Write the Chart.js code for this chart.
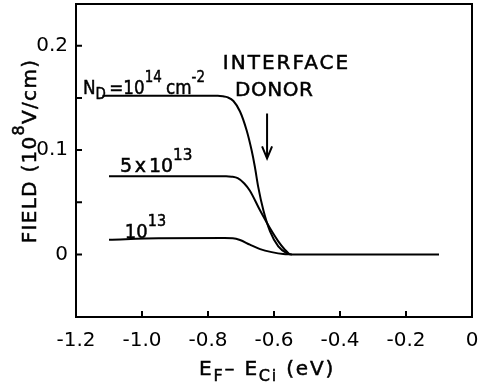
<!DOCTYPE html>
<html>
<head>
<meta charset="utf-8">
<script src="https://cdn.jsdelivr.net/npm/chart.js@4"></script>
<style>
  html, body { margin: 0; padding: 0; background: #fff; }
  #wrap { width: 479px; height: 392px; position: relative; }
</style>
</head>
<body>
<div id="wrap"><canvas id="fieldChart"></canvas></div>
<script>
// valores (E_F - E_Ci em eV, campo em 10^8 V/cm)
const xHigh = [-1.12, -0.77, -0.755, -0.74, -0.723, -0.703, -0.683, -0.668, -0.658, -0.648, -0.632, -0.612, -0.587, -0.562, -0.546, -0.1];
const yHigh = [0.152, 0.152, 0.1515, 0.1505, 0.147, 0.137, 0.119, 0.100, 0.084, 0.065, 0.042, 0.022, 0.0077, 0.0013, 0, 0];

const xMid = [-1.1, -0.745, -0.728, -0.71, -0.69, -0.673, -0.642, -0.612, -0.587, -0.567, -0.552];
const yMid = [0.075, 0.075, 0.0745, 0.073, 0.068, 0.061, 0.042, 0.025, 0.0125, 0.0045, 0];

const xLow = [-1.1, -0.95, -0.75, -0.725, -0.703, -0.673, -0.642, -0.607, -0.572, -0.546];
const yLow = [0.014, 0.0155, 0.0157, 0.0155, 0.0138, 0.0093, 0.0051, 0.0022, 0.0003, 0];

const xTickVals = [-1.2, -1.0, -0.8, -0.6, -0.4, -0.2, 0];
const xTickLabels = ['-1.2', '-1.0', '-0.8', '-0.6', '-0.4', '-0.2', '0'];
const yTickVals = [0, 0.05, 0.1, 0.15, 0.2];
const yTickLabels = ['0', '', '0.1', '', '0.2'];

const FONT = '"DejaVu Sans", sans-serif';

function pts(xs, ys) {
    return xs.map((x, i) => ({ x: x, y: ys[i] }));
}

function segFont(s, size) {
    return s.sub || s.sup ? Math.round(size * 0.8) : size;
}

// desenha texto com sub/superescrito (sx = compressão horizontal)
function drawRich(ctx, x, y, segs, size, spacing, sx) {
    sx = sx || 1;
    ctx.save();
    ctx.translate(x, y);
    ctx.scale(sx, 1);
    ctx.lineWidth = 0.5;
    let cx = 0;
    segs.forEach(s => {
        ctx.font = segFont(s, size) + 'px ' + FONT;
        ctx.letterSpacing = (spacing || 0) + 'px';
        let dy = 0;
        if (s.sub) dy = size * 0.28;
        if (s.sup) dy = -size * 0.6;
        cx += s.gap || 0;
        ctx.fillText(s.t, cx, dy);
        ctx.strokeText(s.t, cx, dy);
        cx += ctx.measureText(s.t).width;
    });
    ctx.restore();
    return cx * sx;
}

function richWidth(ctx, segs, size, spacing) {
    let w = 0;
    segs.forEach(s => {
        ctx.font = segFont(s, size) + 'px ' + FONT;
        ctx.letterSpacing = (spacing || 0) + 'px';
        w += (s.gap || 0) + ctx.measureText(s.t).width;
    });
    return w;
}

const decorPlugin = {
    id: 'decor',
    afterDraw(chart) {
        const ctx = chart.ctx;
        const a = chart.chartArea;
        const xs = chart.scales.x, ys = chart.scales.y;
        ctx.save();
        ctx.strokeStyle = '#000';
        ctx.fillStyle = '#000';
        ctx.lineWidth = 2;
        ctx.strokeRect(a.left, a.top, a.right - a.left, a.bottom - a.top);

        // marcas para dentro
        ctx.beginPath();
        xTickVals.forEach(v => {
            const px = xs.getPixelForValue(v);
            ctx.moveTo(px, a.bottom);
            ctx.lineTo(px, a.bottom - 6);
        });
        yTickVals.forEach(v => {
            const py = ys.getPixelForValue(v);
            ctx.moveTo(a.left, py);
            ctx.lineTo(a.left + 6, py);
        });
        ctx.stroke();

        ctx.textBaseline = 'alphabetic';
        ctx.textAlign = 'left';
        const P = (x, y) => [xs.getPixelForValue(x), ys.getPixelForValue(y)];

        let p = P(-1.179, 0.154);
        drawRich(ctx, p[0], p[1], [
            { t: 'N' }, { t: 'D', sub: true }, { t: '=10', gap: 4 }, { t: '14', sup: true }, { t: 'cm', gap: 5 }, { t: '-2', sup: true }
        ], 20, 0, 0.84);

        p = P(-1.067, 0.079);
        drawRich(ctx, p[0], p[1], [{ t: '5' }, { t: 'x', gap: 3 }, { t: '10', gap: 3 }, { t: '13', sup: true }], 20, 0, 0.95);

        p = P(-1.052, 0.016);
        drawRich(ctx, p[0], p[1], [{ t: '10' }, { t: '13', sup: true }], 20, 0, 0.9);

        p = P(-0.755, 0.178);
        drawRich(ctx, p[0], p[1], [{ t: 'INTERFACE' }], 20, 2);
        p = P(-0.718, 0.152);
        drawRich(ctx, p[0], p[1], [{ t: 'DONOR' }], 20, 0.5);

        // seta
        const a1 = P(-0.621, 0.135), a2 = P(-0.621, 0.092);
        ctx.lineWidth = 2;
        ctx.beginPath();
        ctx.moveTo(a1[0], a1[1]);
        ctx.lineTo(a2[0], a2[1]);
        ctx.moveTo(a2[0] - 5, a2[1] - 12);
        ctx.lineTo(a2[0], a2[1]);
        ctx.lineTo(a2[0] + 5, a2[1] - 12);
        ctx.stroke();

        // títulos dos eixos
        const xt = [{ t: 'E' }, { t: 'F', sub: true }, { t: '\u2013 E' }, { t: 'Ci', sub: true }, { t: ' (eV)' }];
        const wx = richWidth(ctx, xt, 20, 1.8);
        drawRich(ctx, (a.left + a.right) / 2 - 7 - wx / 2, 375, xt, 20, 1.8);

        const yt = [{ t: 'FIELD (10' }, { t: '8', sup: true }, { t: 'V/cm)' }];
        const wy = richWidth(ctx, yt, 20, 1.3);
        ctx.translate(36, 151);
        ctx.rotate(-Math.PI / 2);
        drawRich(ctx, -wy / 2, 0, yt, 20, 1.3);
        ctx.restore();
    }
};

const lineStyle = {
    borderColor: '#000',
    borderWidth: 2,
    pointRadius: 0,
    fill: false,
    cubicInterpolationMode: 'monotone'
};

new Chart(document.getElementById('fieldChart'), {
    type: 'line',
    data: {
        datasets: [
            Object.assign({ label: '1e14', data: pts(xHigh, yHigh) }, lineStyle),
            Object.assign({ label: '5e13', data: pts(xMid, yMid) }, lineStyle),
            Object.assign({ label: '1e13', data: pts(xLow, yLow) }, lineStyle)
        ]
    },
    options: {
        responsive: true,
        maintainAspectRatio: false,
        animation: false,
        layout: { padding: { left: 0, right: 7, top: 4, bottom: 0 } },
        plugins: { legend: { display: false }, tooltip: { enabled: false } },
        scales: {
            x: {
                type: 'linear',
                min: -1.2,
                max: 0,
                grid: { display: false, drawTicks: false },
                border: { display: false },
                afterBuildTicks: s => { s.ticks = xTickVals.map(v => ({ value: v })); },
                afterFit: s => { s.height = 75; s.paddingLeft = 0; s.paddingRight = 0; },
                ticks: {
                    padding: 12,
                    color: '#000',
                    font: { family: FONT, size: 20 },
                    maxRotation: 0,
                    autoSkip: false,
                    callback: (v, i) => xTickLabels[i]
                }
            },
            y: {
                min: -0.06,
                max: 0.24,
                grid: { display: false, drawTicks: false },
                border: { display: false },
                afterBuildTicks: s => { s.ticks = yTickVals.map(v => ({ value: v })); },
                afterFit: s => { s.width = 76; s.paddingTop = 0; s.paddingBottom = 0; },
                ticks: {
                    padding: 8,
                    color: '#000',
                    font: { family: FONT, size: 20 },
                    autoSkip: false,
                    callback: (v, i) => yTickLabels[i]
                }
            }
        }
    },
    plugins: [decorPlugin]
});
</script>
</body>
</html>
